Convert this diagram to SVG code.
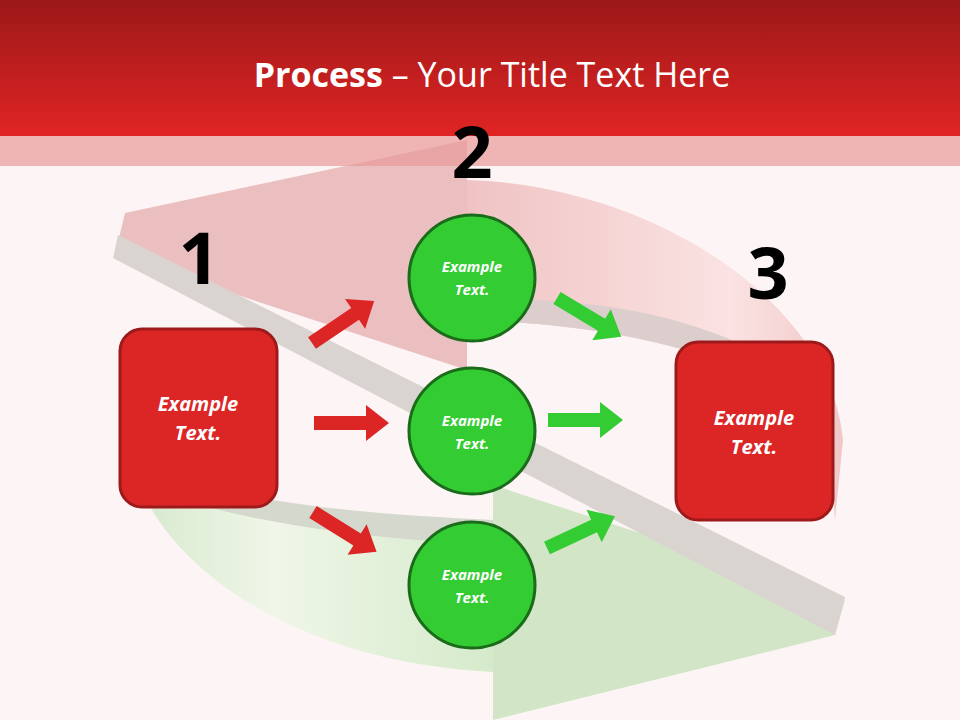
<svg xmlns="http://www.w3.org/2000/svg" width="960" height="720" viewBox="0 0 960 720">
<defs>
<linearGradient id="hdr" x1="0" y1="0" x2="0" y2="1"><stop offset="0" stop-color="#9c1818"/><stop offset="1" stop-color="#e02424"/></linearGradient>
<linearGradient id="redband" x1="0" y1="0" x2="1" y2="0"><stop offset="0" stop-color="#eebbbb"/><stop offset="0.7" stop-color="#fbe0e0"/><stop offset="1" stop-color="#efc0c0"/></linearGradient>
<linearGradient id="greenband" x1="0" y1="0" x2="1" y2="0"><stop offset="0" stop-color="#cfe6c6"/><stop offset="0.4" stop-color="#eef7e6"/><stop offset="1" stop-color="#cfe9c4"/></linearGradient>
<path id="arr" d="M0,-7 L52,-7 L52,-18 L75,0 L52,18 L52,7 L0,7 Z"/>
<style>
.lbl{font-family:"Open Sans","Liberation Sans",sans-serif;font-style:italic;font-weight:700;fill:#fff;text-anchor:middle}
.num{font-family:"Open Sans","Liberation Sans",sans-serif;font-weight:700;fill:#000;text-anchor:middle;font-size:72px}
.box{fill:#dc2626;stroke:#9e1a1a;stroke-width:3}
.circ{fill:#33cc33;stroke:#1a6b1a;stroke-width:3}
.ra{fill:#dc2626}
.ga{fill:#33cc33}
</style>
</defs>
<rect width="960" height="720" fill="#fdf5f5"/>
<g id="background" opacity="0.85">
<path d="M130,420 C115,520 250,660 493,672 L493,545 C380,540 250,525 150,490 Z" fill="url(#greenband)"/>
<polygon points="493,485 845,600 835,635 493,720" fill="#cbe3c0"/>
<path d="M150,490 C250,525 380,540 493,545 L493,520 C380,515 250,505 150,470 Z" fill="#cfd3c6"/>
<path d="M467,180 C650,185 830,300 843,440 L835,520 L830,450 C800,370 650,325 467,320 Z" fill="url(#redband)"/>
<polygon points="125,213 467,140 467,370 115,255" fill="#e8b6b6"/>
<path d="M467,320 C650,325 800,370 830,450 L832,425 C800,345 650,300 520,300 Z" fill="#d8c8c8"/>
<polygon points="118,235 845,597 835,635 113,258" fill="#d3cfca"/>
</g>
<rect x="0" y="0" width="960" height="136" fill="url(#hdr)"/>
<rect x="0" y="136" width="960" height="30" fill="#e89a9a" opacity="0.7"/>
<text x="492" y="87" font-family="'Open Sans','Liberation Sans',sans-serif" font-size="34" fill="#fff" text-anchor="middle"><tspan font-weight="700">Process</tspan> – Your Title Text Here</text>
<g id="connectors">
<use href="#arr" class="ra" transform="translate(312,343) rotate(-34)"/>
<use href="#arr" class="ra" transform="translate(314,423)"/>
<use href="#arr" class="ra" transform="translate(313,512) rotate(32)"/>
<use href="#arr" class="ga" transform="translate(557,298) rotate(31)"/>
<use href="#arr" class="ga" transform="translate(548,420)"/>
<use href="#arr" class="ga" transform="translate(547,548) rotate(-25)"/>
</g>
<g id="n1"><text class="num" x="199" y="284">1</text></g>
<g id="n2"><text class="num" x="472" y="178">2</text></g>
<g id="n3"><text class="num" x="768" y="299">3</text></g>
<g id="box1"><rect class="box" x="120" y="329" width="157" height="178" rx="22"/><text class="lbl" font-size="20"><tspan x="198" y="411">Example</tspan><tspan x="198" y="440">Text.</tspan></text></g>
<g id="box3"><rect class="box" x="676" y="342" width="157" height="178" rx="22"/><text class="lbl" font-size="20"><tspan x="754" y="425">Example</tspan><tspan x="754" y="454">Text.</tspan></text></g>
<g id="c1"><circle class="circ" cx="472" cy="278" r="63"/><text class="lbl" font-size="15"><tspan x="472" y="272">Example</tspan><tspan x="472" y="295">Text.</tspan></text></g>
<g id="c2"><circle class="circ" cx="472" cy="431" r="63"/><text class="lbl" font-size="15"><tspan x="472" y="426">Example</tspan><tspan x="472" y="449">Text.</tspan></text></g>
<g id="c3"><circle class="circ" cx="472" cy="585" r="63"/><text class="lbl" font-size="15"><tspan x="472" y="580">Example</tspan><tspan x="472" y="603">Text.</tspan></text></g>
</svg>
